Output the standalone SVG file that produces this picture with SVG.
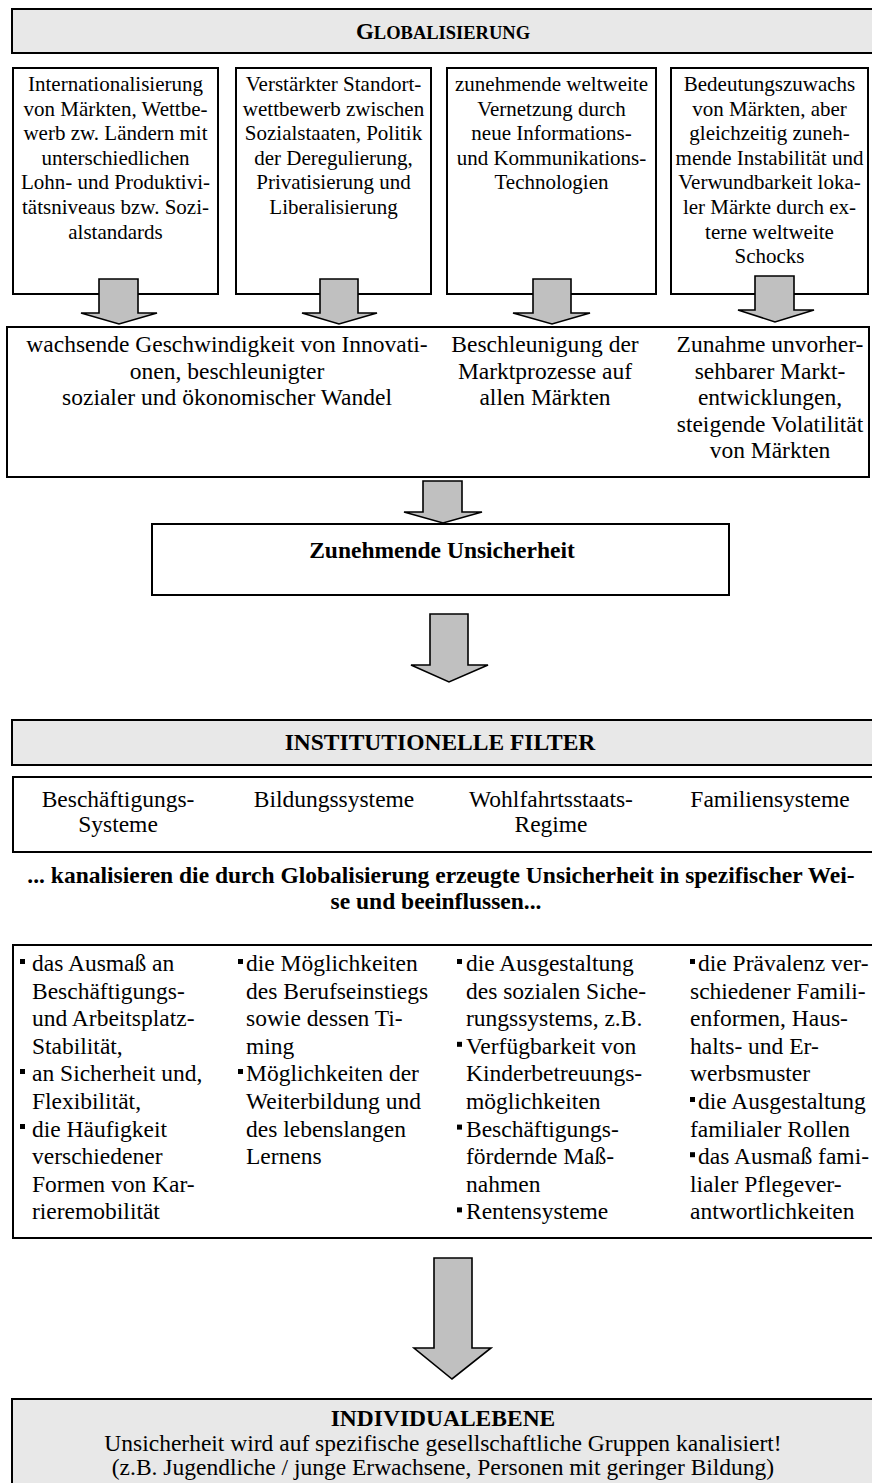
<svg xmlns="http://www.w3.org/2000/svg" width="872" height="1483" viewBox="0 0 872 1483">
<style>
.box{fill:#fff;stroke:#000;stroke-width:2}
.hdr{fill:#e8e8e8;stroke:#000;stroke-width:2}
.arr{fill:#c0c0c0;stroke:#000;stroke-width:1.6;stroke-linejoin:miter}
.bul{fill:#000}
text{font-family:'Liberation Serif','Times New Roman',serif;font-size:23.5px;fill:#000}
.s{font-size:21px}
.b{font-weight:bold}
.c{text-anchor:middle}
</style>
<rect width="872" height="1483" fill="#fff"/>

<g id="globalisierung">
<rect class="hdr" x="12" y="9" width="870" height="44"/>
<text class="b c" x="443" y="39"><tspan font-size="23">G</tspan><tspan font-size="18.5">LOBALISIERUNG</tspan></text>
</g>

<g id="box-internationalisierung">
<rect class="box" x="13" y="68" width="205" height="226"/>
<text class="s c"><tspan x="115.5" y="91">Internationalisierung</tspan><tspan x="115.5" y="115.6">von Märkten, Wettbe-</tspan><tspan x="115.5" y="140.2">werb zw. Ländern mit</tspan><tspan x="115.5" y="164.8">unterschiedlichen</tspan><tspan x="115.5" y="189.4">Lohn- und Produktivi-</tspan><tspan x="115.5" y="214">tätsniveaus bzw. Sozi-</tspan><tspan x="115.5" y="238.6">alstandards</tspan></text>
</g>

<g id="box-standortwettbewerb">
<rect class="box" x="236" y="68" width="195" height="226"/>
<text class="s c"><tspan x="333.5" y="91">Verstärkter Standort-</tspan><tspan x="333.5" y="115.6">wettbewerb zwischen</tspan><tspan x="333.5" y="140.2">Sozialstaaten, Politik</tspan><tspan x="333.5" y="164.8">der Deregulierung,</tspan><tspan x="333.5" y="189.4">Privatisierung und</tspan><tspan x="333.5" y="214">Liberalisierung</tspan></text>
</g>

<g id="box-vernetzung">
<rect class="box" x="447" y="68" width="209" height="226"/>
<text class="s c"><tspan x="551.5" y="91">zunehmende weltweite</tspan><tspan x="551.5" y="115.6">Vernetzung durch</tspan><tspan x="551.5" y="140.2">neue Informations-</tspan><tspan x="551.5" y="164.8">und Kommunikations-</tspan><tspan x="551.5" y="189.4">Technologien</tspan></text>
</g>

<g id="box-bedeutungszuwachs">
<rect class="box" x="671" y="68" width="197" height="226"/>
<text class="s c"><tspan x="769.5" y="91">Bedeutungszuwachs</tspan><tspan x="769.5" y="115.6">von Märkten, aber</tspan><tspan x="769.5" y="140.2">gleichzeitig zuneh-</tspan><tspan x="769.5" y="164.8">mende Instabilität und</tspan><tspan x="769.5" y="189.4">Verwundbarkeit loka-</tspan><tspan x="769.5" y="214">ler Märkte durch ex-</tspan><tspan x="769.5" y="238.6">terne weltweite</tspan><tspan x="769.5" y="263.2">Schocks</tspan></text>
</g>

<g id="box-wandel">
<rect class="box" x="7" y="327" width="862" height="150"/>
<text class="c"><tspan x="227" y="352">wachsende Geschwindigkeit von Innovati-</tspan><tspan x="227" y="378.5">onen, beschleunigter</tspan><tspan x="227" y="405">sozialer und ökonomischer Wandel</tspan></text>
<text class="c"><tspan x="545" y="352">Beschleunigung der</tspan><tspan x="545" y="378.5">Marktprozesse auf</tspan><tspan x="545" y="405">allen Märkten</tspan></text>
<text class="c"><tspan x="770" y="352">Zunahme unvorher-</tspan><tspan x="770" y="378.5">sehbarer Markt-</tspan><tspan x="770" y="405">entwicklungen,</tspan><tspan x="770" y="431.5">steigende Volatilität</tspan><tspan x="770" y="458">von Märkten</tspan></text>
</g>

<g id="box-unsicherheit">
<rect class="box" x="152" y="524" width="577" height="71"/>
<text class="b c" x="442" y="558" font-size="23.8">Zunehmende Unsicherheit</text>
</g>

<g id="institutionelle-filter">
<rect class="hdr" x="12" y="720" width="870" height="45"/>
<text class="b c" x="440" y="750" font-size="21">INSTITUTIONELLE FILTER</text>
</g>

<g id="box-systeme">
<rect class="box" x="13" y="777" width="869" height="75"/>
<text class="c"><tspan x="118" y="807">Beschäftigungs-</tspan><tspan x="118" y="832">Systeme</tspan></text>
<text class="c" x="334" y="807">Bildungssysteme</text>
<text class="c"><tspan x="551" y="807">Wohlfahrtsstaats-</tspan><tspan x="551" y="832">Regime</tspan></text>
<text class="c" x="770" y="807">Familiensysteme</text>
</g>

<g id="kanalisieren">
<text class="b c" font-size="23.8"><tspan x="441" y="883">... kanalisieren die durch Globalisierung erzeugte Unsicherheit in spezifischer Wei-</tspan><tspan x="436" y="909">se und beeinflussen...</tspan></text>
</g>

<g id="box-auswirkungen">
<rect class="box" x="13" y="945" width="869" height="293"/>
<rect class="bul" x="20" y="959" width="5" height="5"/>
<rect class="bul" x="20" y="1069" width="5" height="5"/>
<rect class="bul" x="20" y="1124" width="5" height="5"/>
<text><tspan x="32" y="971">das Ausmaß an</tspan><tspan x="32" y="998.6">Beschäftigungs-</tspan><tspan x="32" y="1026.2">und Arbeitsplatz-</tspan><tspan x="32" y="1053.8">Stabilität,</tspan><tspan x="32" y="1081.4">an Sicherheit und,</tspan><tspan x="32" y="1109">Flexibilität,</tspan><tspan x="32" y="1136.6">die Häufigkeit</tspan><tspan x="32" y="1164.2">verschiedener</tspan><tspan x="32" y="1191.8">Formen von Kar-</tspan><tspan x="32" y="1219.4">rieremobilität</tspan></text>
<rect class="bul" x="238" y="959" width="5" height="5"/>
<rect class="bul" x="238" y="1069" width="5" height="5"/>
<text><tspan x="246" y="971">die Möglichkeiten</tspan><tspan x="246" y="998.6">des Berufseinstiegs</tspan><tspan x="246" y="1026.2">sowie dessen Ti-</tspan><tspan x="246" y="1053.8">ming</tspan><tspan x="246" y="1081.4">Möglichkeiten der</tspan><tspan x="246" y="1109">Weiterbildung und</tspan><tspan x="246" y="1136.6">des lebenslangen</tspan><tspan x="246" y="1164.2">Lernens</tspan></text>
<rect class="bul" x="457" y="959" width="5" height="5"/>
<rect class="bul" x="457" y="1041.8" width="5" height="5"/>
<rect class="bul" x="457" y="1124.6" width="5" height="5"/>
<rect class="bul" x="457" y="1207.4" width="5" height="5"/>
<text><tspan x="466" y="971">die Ausgestaltung</tspan><tspan x="466" y="998.6">des sozialen Siche-</tspan><tspan x="466" y="1026.2">rungssystems, z.B.</tspan><tspan x="466" y="1053.8">Verfügbarkeit von</tspan><tspan x="466" y="1081.4">Kinderbetreuungs-</tspan><tspan x="466" y="1109">möglichkeiten</tspan><tspan x="466" y="1136.6">Beschäftigungs-</tspan><tspan x="466" y="1164.2">fördernde Maß-</tspan><tspan x="466" y="1191.8">nahmen</tspan><tspan x="466" y="1219.4">Rentensysteme</tspan></text>
<rect class="bul" x="690" y="959" width="5" height="5"/>
<rect class="bul" x="690" y="1097" width="5" height="5"/>
<rect class="bul" x="690" y="1152.2" width="5" height="5"/>
<text><tspan x="698" y="971">die Prävalenz ver-</tspan><tspan x="690" y="998.6">schiedener Famili-</tspan><tspan x="690" y="1026.2">enformen, Haus-</tspan><tspan x="690" y="1053.8">halts- und Er-</tspan><tspan x="690" y="1081.4">werbsmuster</tspan><tspan x="698" y="1109">die Ausgestaltung</tspan><tspan x="690" y="1136.6">familialer Rollen</tspan><tspan x="698" y="1164.2">das Ausmaß fami-</tspan><tspan x="690" y="1191.8">lialer Pflegever-</tspan><tspan x="690" y="1219.4">antwortlichkeiten</tspan></text>
</g>

<g id="individualebene">
<rect class="hdr" x="12" y="1399" width="870" height="100"/>
<text class="c" font-size="24"><tspan class="b" x="443" y="1426">INDIVIDUALEBENE</tspan><tspan x="443" y="1451">Unsicherheit wird auf spezifische gesellschaftliche Gruppen kanalisiert!</tspan><tspan x="443" y="1475">(z.B. Jugendliche / junge Erwachsene, Personen mit geringer Bildung)</tspan></text>
</g>

<g id="connectors">
<polygon class="arr" points="99,279 138,279 138,313 157,313 119,324 81,313 99,313"/>
<polygon class="arr" points="320,279 358,279 358,313 377,313 339,324 302,313 320,313"/>
<polygon class="arr" points="533,279 571,279 571,313 590,313 552,324 513,313 533,313"/>
<polygon class="arr" points="755,276 794,276 794,310 814,310 775,322 738,310 755,310"/>
<polygon class="arr" points="423,481 462,481 462,512 482,512 443,523 404,512 423,512"/>
<polygon class="arr" points="430,614 468,614 468,665 488,665 449,682 411,665 430,665"/>
<polygon class="arr" points="434,1258 472,1258 472,1348 491,1348 452,1379 414,1348 434,1348"/>
</g>
</svg>
